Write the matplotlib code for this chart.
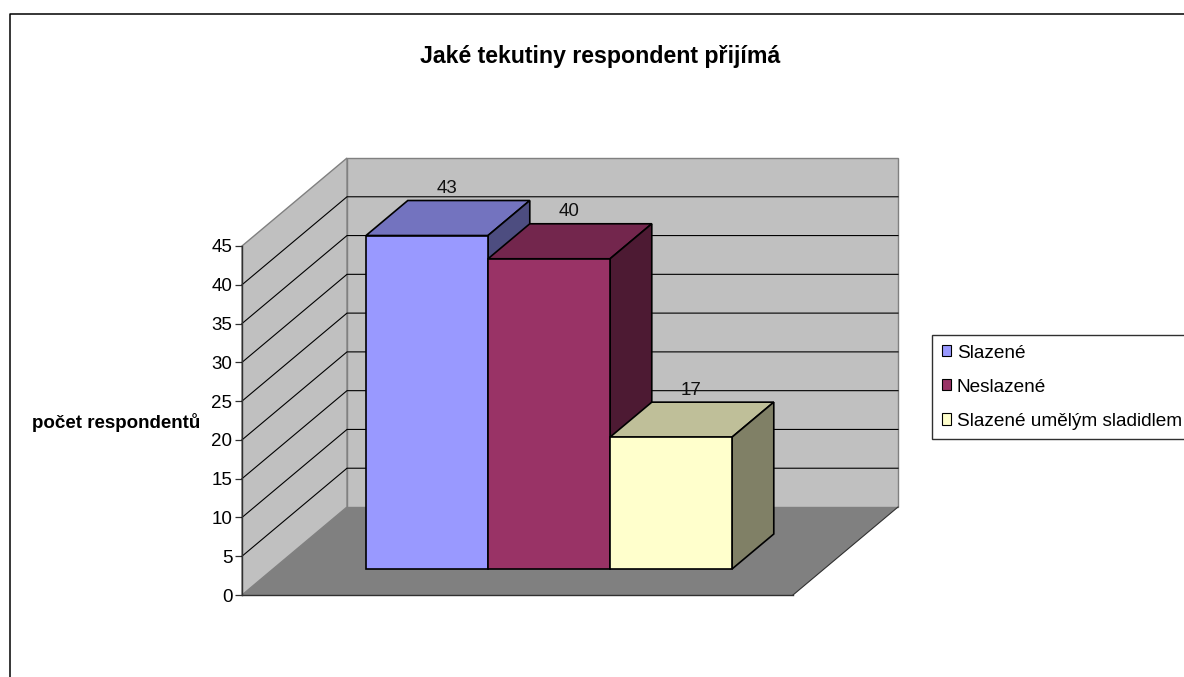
import matplotlib
matplotlib.use('Agg')
import numpy as np
from matplotlib import pyplot as plt
from matplotlib.patches import Patch, Polygon

plt.rcParams['font.family'] = ['Liberation Sans', 'DejaVu Sans']

# survey counts
categories = ['Slazené', 'Neslazené', 'Slazené umělým sladidlem']
values = [43, 40, 17]
y_ticks = [0, 5, 10, 15, 20, 25, 30, 35, 40, 45]

title = 'Jaké tekutiny respondent přijímá'
y_label = 'počet respondentů'

front_colors = ['#9999FF', '#993366', '#FFFFCC']
top_colors = ['#7373BF', '#73264D', '#BFBF99']
side_colors = ['#4D4D80', '#4D1A33', '#808066']

W, H = 1184, 677
BAR_PX = 122.0
UNIT_PX = 349.0 / 45
# full depth of the box, in data units
DX = 105.0 / BAR_PX
DY = 88.0 / UNIT_PX
X_MAX = 551.0 / BAR_PX


# oblique projection: a point at depth d (0 front, 1 back) goes up and to the right
def project(x, v, d):
    return x + d * DX, v + d * DY


def face(ax, corners, **kw):
    pts = [project(*c) for c in corners]
    ax.add_patch(Polygon(pts, closed=True, clip_on=False, **kw))


fig = plt.figure(figsize=(W / 100, H / 100), dpi=100, facecolor='white')
ax = fig.add_axes([242 / W, 1 - 595 / H, 551 / W, 349 / H])
ax.set_xlim(0, X_MAX)
ax.set_ylim(0, 45)
ax.patch.set_visible(False)

# chart frame runs off the right and bottom of the canvas
fig.add_artist(plt.Line2D([9.5 / W, 9.5 / W, 1.0], [0, 1 - 13.5 / H, 1 - 13.5 / H], color='black', lw=1.1))

# walls and floor
wall_edge = '#808080'
face(ax, [(0, 0, 1), (X_MAX, 0, 1), (X_MAX, 45, 1), (0, 45, 1)], facecolor='#C0C0C0', edgecolor=wall_edge, lw=1, zorder=1)
face(ax, [(0, 0, 0), (0, 0, 1), (0, 45, 1), (0, 45, 0)], facecolor='#C0C0C0', edgecolor=wall_edge, lw=1, zorder=1)
face(ax, [(0, 0, 0), (X_MAX, 0, 0), (X_MAX, 0, 1), (0, 0, 1)], facecolor='#808080', edgecolor='none', zorder=1)
ax.plot(*zip(project(X_MAX, 0, 0), project(X_MAX, 0, 1)), color='#303030', lw=0.8, zorder=2, clip_on=False)

# gridlines on both walls
for t in y_ticks[1:-1]:
    xs, ys = zip(project(0, t, 0), project(0, t, 1), project(X_MAX, t, 1))
    ax.plot(xs, ys, color='black', lw=0.8, zorder=2, clip_on=False)

# bars
D0 = 26.0 / 88
D1 = 61.0 / 88
X0 = 93.0 / BAR_PX
for i, v in enumerate(values):
    left = X0 + i
    right = left + 1
    kw = dict(edgecolor='black', lw=1.2, zorder=3 + i)
    face(ax, [(left, v, D0), (right, v, D0), (right, v, D1), (left, v, D1)], facecolor=top_colors[i], **kw)
    face(ax, [(right, 0, D0), (right, 0, D1), (right, v, D1), (right, v, D0)], facecolor=side_colors[i], **kw)
    bx, by = project(left, 0, D0)
    ax.bar(bx, v, width=1, bottom=by, align='edge', color=front_colors[i], clip_on=False, **kw)
    tx, ty = project(left + 0.5, v, (D0 + D1) / 2)
    ax.annotate(str(v), (tx, ty), xytext=(-0.5, 29.5 * 0.72), textcoords='offset points',
                ha='center', va='center', fontsize=13.5, color='#101010', zorder=10, annotation_clip=False)

# axes
ax.set_xticks([])
ax.set_yticks(y_ticks)
ax.tick_params(axis='y', length=5, width=0.9, color='#303030', labelsize=13.5, pad=2)
for s in ['top', 'right']:
    ax.spines[s].set_visible(False)
for s in ['left', 'bottom']:
    ax.spines[s].set_color('#303030')
    ax.spines[s].set_linewidth(1.0)
    ax.spines[s].set_zorder(2.5)

fig.text(600 / W, 1 - 56 / H, title, ha='center', va='center', fontsize=16.7, fontweight='bold')
fig.text(116 / W, 1 - 422 / H, y_label, ha='center', va='center', fontsize=13.5, fontweight='bold')

handles = [Patch(facecolor=c, edgecolor='black', lw=0.8) for c in front_colors]
leg = fig.legend(handles, categories, loc='upper left', bbox_to_anchor=(932 / W, 1 - 335 / H),
                 borderaxespad=0, fancybox=False, framealpha=1, edgecolor='#303030',
                 fontsize=13.7, labelspacing=0.9, handlelength=0.52, handleheight=0.52,
                 handletextpad=0.28, borderpad=0.5)
leg.get_frame().set_linewidth(1.0)

fig.savefig('out.png', dpi=100)
